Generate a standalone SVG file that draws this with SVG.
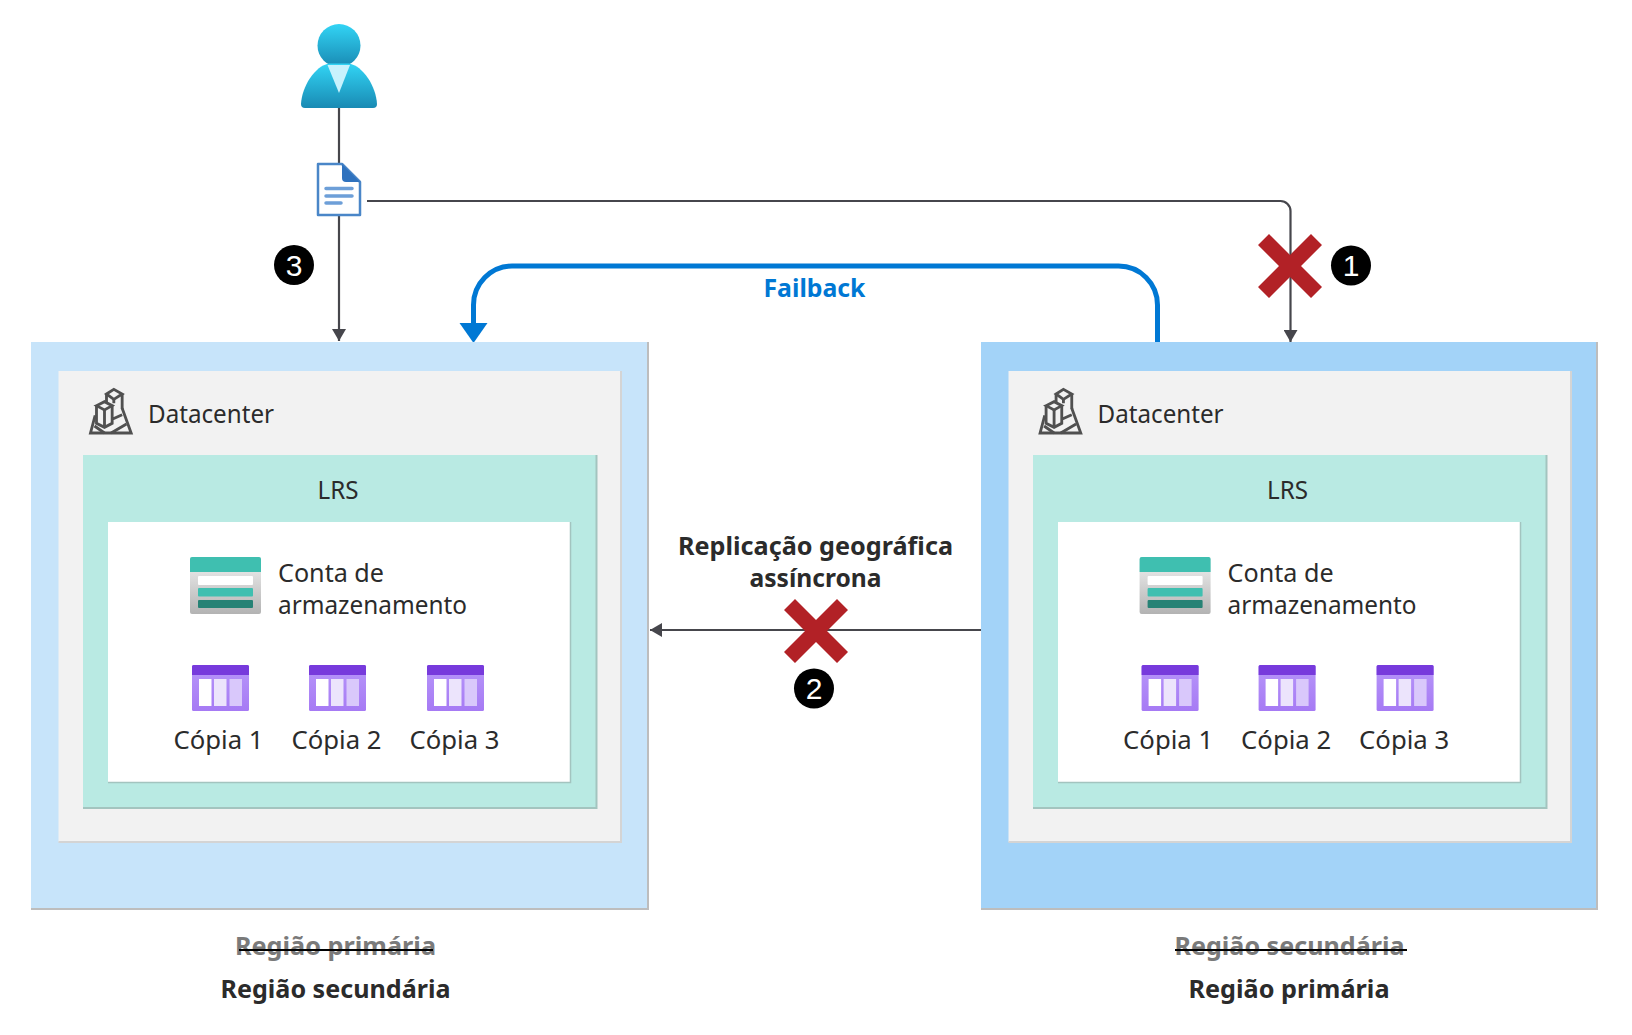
<svg xmlns="http://www.w3.org/2000/svg" width="1632" height="1035" viewBox="0 0 1632 1035">
<style>
text{font-family:"Noto Sans","Open Sans","Liberation Sans",sans-serif;fill:#2b2b2b;font-size:25.500px}
.b{font-weight:700}
.c{text-anchor:middle}
.old{fill:#7a7a7a}
.n{fill:#fff;font-size:30px;text-anchor:middle;font-family:"Liberation Sans",sans-serif}
.conn{fill:none;stroke:#46464c;stroke-width:2.200}
.strike{stroke:#000;stroke-width:2.200}
.x{fill:#b22126}
</style>
<defs>
<marker id="ah" markerUnits="userSpaceOnUse" markerWidth="14" markerHeight="14" refX="12" refY="7" orient="auto"><path d="M0 0L12 7L0 14Z" fill="#46464c"/></marker>
<linearGradient id="p" x1="0" y1="0" x2="0" y2="1"><stop offset="0" stop-color="#32d4f5"/><stop offset="1" stop-color="#198ab3"/></linearGradient>
<linearGradient id="s" x1="0" y1="0" x2="0" y2="1"><stop offset="0" stop-color="#f2f2f2"/><stop offset="1" stop-color="#b3b3b3"/></linearGradient>
<linearGradient id="t" x1="0" y1="0" x2="0" y2="1"><stop offset="0" stop-color="#b796f9"/><stop offset="1" stop-color="#a67af4"/></linearGradient>
<g id="copy">
<rect width="57" height="46" rx="1.5" fill="url(#t)"/>
<path d="M0 10V1.5A1.5 1.5 0 0 1 1.500 0H55.500A1.500 1.500 0 0 1 57 1.500V10Z" fill="#773adc"/>
<rect x="7" y="14" width="12.500" height="27" fill="#fff"/>
<rect x="22" y="14" width="12.500" height="27" fill="#ece4fc"/>
<rect x="37.500" y="14" width="12.500" height="27" fill="#d9c8fb"/>
</g>
<g id="dcbox">
<rect x="58.500" y="371" width="562.500" height="471" fill="#f2f2f2"/>
<path d="M621 371V842H58.500" fill="none" stroke="#d4d4d4" stroke-width="2"/>
<rect x="83" y="455" width="513.500" height="353" fill="#b9eae3"/>
<path d="M596.500 455V808H83" fill="none" stroke="#a3c4bf" stroke-width="2"/>
<rect x="108" y="522" width="462.500" height="260.500" fill="#fff"/>
<path d="M570.500 522V782.500H108" fill="none" stroke="#a3c4bf" stroke-width="1.500"/>
</g>
<g id="dcin">
<g transform="translate(20.500 340) scale(.3333)" fill="none" stroke="#505050" stroke-width="8.500" stroke-linejoin="miter">
<path d="M258 162L280 148L305 162L280 178Z"/>
<path d="M258 162V188M305 162V207M280 178V190"/>
<path d="M228 197L252 185L275 197L252 210Z"/>
<path d="M228 197V250L252 262L275 250V197M252 210V262M275 238L305 224"/>
<path d="M224 226L210 279H332L305 205"/>
<path d="M222 258L252 279M272 279L318 252"/>
</g>
<text x="148" y="423" textLength="126" lengthAdjust="spacingAndGlyphs">Datacenter</text>
<text x="338" y="499" class="c" textLength="41" lengthAdjust="spacingAndGlyphs">LRS</text>
<rect x="190" y="557" width="71" height="57" rx="2" fill="url(#s)"/>
<path d="M190 572V559A2 2 0 0 1 192 557H259A2 2 0 0 1 261 559V572Z" fill="#3fbfb0"/>
<rect x="198" y="576" width="55" height="9" rx="1" fill="#fff"/>
<rect x="198" y="588" width="55" height="8.500" rx="1" fill="#3fbfb0"/>
<rect x="198" y="600" width="55" height="8" rx="1" fill="#268275"/>
<text x="278" y="582" textLength="106" lengthAdjust="spacingAndGlyphs">Conta de</text>
<text x="278" y="614" textLength="189" lengthAdjust="spacingAndGlyphs">armazenamento</text>
<use href="#copy" x="192" y="665"/>
<use href="#copy" x="309" y="665"/>
<use href="#copy" x="427" y="665"/>
<text x="173.500" y="749" textLength="90" lengthAdjust="spacingAndGlyphs">Cópia 1</text>
<text x="291.500" y="749" textLength="90" lengthAdjust="spacingAndGlyphs">Cópia 2</text>
<text x="409.500" y="749" textLength="90" lengthAdjust="spacingAndGlyphs">Cópia 3</text>
</g>
</defs>
<rect width="1632" height="1035" fill="#fff"/>
<g id="connectors">
<path class="conn" d="M339 108V341" marker-end="url(#ah)"/>
<path class="conn" d="M367 201H1280.500A10 10 0 0 1 1290.500 211V342" marker-end="url(#ah)"/>
<path class="conn" d="M982 630H650" marker-end="url(#ah)"/>
<path d="M1157.500 343V305A39 39 0 0 0 1118.500 266H512A39 39 0 0 0 473.500 305V325" fill="none" stroke="#0078d4" stroke-width="5"/>
<path d="M459.500 323H487.500L473.500 343Z" fill="#0078d4"/>
</g>
<g id="region-left">
<rect x="31" y="342" width="617" height="567" fill="#c7e4fa"/>
<path d="M648 342V909H31" fill="none" stroke="#bdbdbd" stroke-width="2"/>
<use href="#dcbox"/>
<use href="#dcin"/>
<text x="335.500" y="955" class="b old c" textLength="201" lengthAdjust="spacingAndGlyphs">Região primária</text>
<line class="strike" x1="239" y1="950" x2="433" y2="950"/>
<text x="335.500" y="998" class="b c" textLength="230" lengthAdjust="spacingAndGlyphs">Região secundária</text>
</g>
<g id="region-right">
<rect x="981" y="342" width="616" height="567" fill="#a3d3f8"/>
<path d="M1597 342V909H981" fill="none" stroke="#bdbdbd" stroke-width="2"/>
<use href="#dcbox" x="950"/>
<use href="#dcin" x="949.600"/>
<text x="1289.500" y="955" class="b old c" textLength="230" lengthAdjust="spacingAndGlyphs">Região secundária</text>
<line class="strike" x1="1175" y1="950" x2="1407" y2="950"/>
<text x="1289" y="998" class="b c" textLength="201" lengthAdjust="spacingAndGlyphs">Região primária</text>
</g>
<g id="user">
<circle cx="339" cy="45.500" r="21.500" fill="url(#p)"/>
<path d="M301 104C302 86 315 66 329 63.500H349C363 66 376 86 377 104A4 4 0 0 1 373 108H305A4 4 0 0 1 301 104Z" fill="url(#p)"/>
<path d="M327.500 65L350 65L339 93Z" fill="#c8f2fd"/>
</g>
<g id="document">
<path d="M318 164H342L360 182V215H318Z" fill="#fff" stroke="#4a86c8" stroke-width="2.500" stroke-linejoin="round"/>
<path d="M342 164L360 182H346A4 4 0 0 1 342 178Z" fill="#2f72be"/>
<path d="M326 188.500H352M326 196H352M326 203H341" stroke="#6d9fd8" stroke-width="3.500" stroke-linecap="round"/>
</g>
<g id="label-failback"><text x="814.500" y="297" class="b c" style="fill:#0078d4" textLength="102" lengthAdjust="spacingAndGlyphs">Failback</text></g>
<g id="label-replication">
<text x="815.500" y="555" class="b c" textLength="275" lengthAdjust="spacingAndGlyphs">Replicação geográfica</text>
<text x="815.500" y="587" class="b c" textLength="132" lengthAdjust="spacingAndGlyphs">assíncrona</text>
</g>
<g id="x-1"><path class="x" transform="translate(1290 266)" d="M-32-21L-21-32L0-11L21-32L32-21L11 0L32 21L21 32L0 11L-21 32L-32 21L-11 0Z"/></g>
<g id="x-2"><path class="x" transform="translate(816 631)" d="M-32-21L-21-32L0-11L21-32L32-21L11 0L32 21L21 32L0 11L-21 32L-32 21L-11 0Z"/></g>
<g id="badge-1"><circle cx="1351" cy="265.500" r="20"/><text x="1351" y="276" class="n">1</text></g>
<g id="badge-2"><circle cx="814" cy="688.500" r="20"/><text x="814" y="699" class="n">2</text></g>
<g id="badge-3"><circle cx="294" cy="265" r="20"/><text x="294" y="275.500" class="n">3</text></g>
</svg>
